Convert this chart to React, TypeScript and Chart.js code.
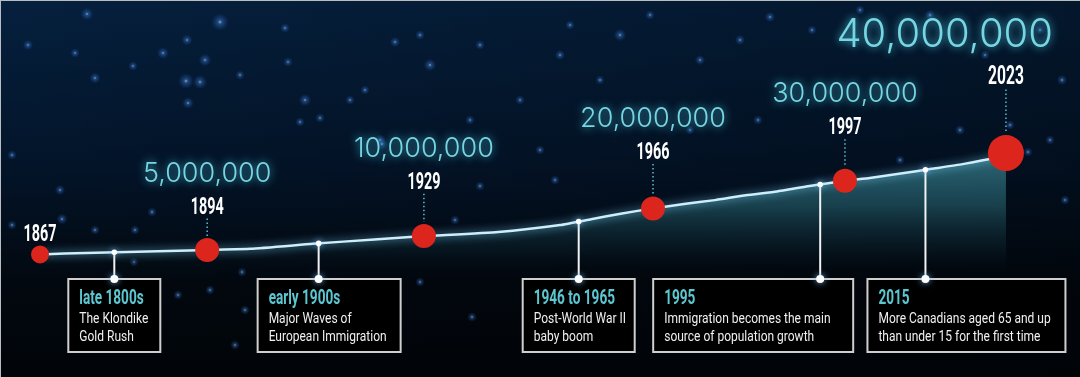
import { useEffect, useRef } from "react";
import { Chart, registerables } from "chart.js";

Chart.register(...registerables);

// ---- data ----
const years = [1867, 1871, 1881, 1891, 1894, 1901, 1911, 1921, 1929, 1941, 1951, 1956, 1961, 1966, 1971, 1976, 1981, 1986, 1991, 1997, 2001, 2006, 2011, 2016, 2021, 2023];
const populationMillions = [3.4, 3.7, 4.3, 4.8, 5.0, 5.4, 7.2, 8.8, 10.0, 11.5, 14.0, 16.1, 18.2, 20.0, 21.6, 23.0, 24.8, 26.1, 28.0, 30.0, 31.0, 32.6, 34.3, 36.0, 38.2, 40.0];

const milestoneYears = [1867, 1894, 1929, 1966, 1997, 2023];
const milestonePopulation = [3.4, 5, 10, 20, 30, 40];
const milestonePopLabels = ["", "5,000,000", "10,000,000", "20,000,000", "30,000,000", "40,000,000"];

const eventYears = [1879, 1912, 1954, 1993, 2010];
const eventTitles = ["late 1800s", "early 1900s", "1946 to 1965", "1995", "2015"];
const eventLine1 = ["The Klondike", "Major Waves of", "Post-World War II", "Immigration becomes the main", "More Canadians aged 65 and up"];
const eventLine2 = ["Gold Rush", "European Immigration", "baby boom", "source of population growth", "than under 15 for the first time"];

// ---- layout / style (not data) ----
const milestoneRadius = [9, 12, 12, 12, 12, 18];
const yearLift = [22, 45, 56, 58, 55, 78];
const boxOffset = [-46, -61, -56, -167, -58];
const boxWidth = [92, 143, 112, 200, 198];
const BOX_TOP = 279;
const BOX_H = 73;

const stars: number[][] = [
  [87, 14, 1.6], [220, 22, 2.2], [187, 40, 1.4], [28, 45, 1.3], [75, 53, 1.2], [186, 81, 2.0], [200, 82, 1.8],
  [163, 53, 1.5], [95, 78, 1.4], [133, 66, 1.2], [288, 62, 1.2], [300, 122, 1.2], [285, 28, 1.2], [395, 42, 1.3],
  [420, 35, 1.2], [430, 65, 1.6], [480, 45, 1.2], [470, 120, 1.2], [560, 55, 1.3], [570, 25, 1.2], [620, 35, 1.6],
  [650, 15, 1.2], [700, 60, 1.3], [758, 120, 1.2], [770, 17, 1.3], [860, 10, 1.2], [930, 15, 1.3], [1040, 30, 1.3],
  [1062, 80, 1.3], [1065, 200, 1.2], [1010, 125, 1.2], [960, 130, 1.3], [900, 160, 1.2], [740, 40, 1.3],
  [350, 100, 1.2], [380, 140, 1.4], [12, 155, 1.2], [60, 190, 1.3], [205, 60, 1.6], [188, 103, 1.5], [320, 118, 1.2],
  [240, 75, 1.2], [305, 100, 1.6], [365, 90, 1.2], [382, 144, 1.6], [480, 186, 1.2], [520, 100, 1.2], [600, 80, 1.2],
  [690, 130, 1.2], [812, 30, 1.2], [985, 55, 1.2], [1028, 152, 1.2], [1050, 140, 1.2], [62, 219, 1.4], [95, 230, 1.2],
  [134, 262, 1.2], [178, 295, 1.2], [210, 290, 1.2], [242, 272, 1.2], [245, 310, 1.2], [235, 345, 1.2], [420, 282, 1.2],
  [472, 317, 1.2], [135, 230, 1.2], [152, 212, 1.2], [12, 225, 1.2], [540, 150, 1.2], [555, 180, 1.2], [455, 220, 1.2],
];

function lerpPop(yr: number) {
  for (let i = 0; i < years.length - 1; i++) {
    if (yr >= years[i] && yr <= years[i + 1]) {
      const t = (yr - years[i]) / (years[i + 1] - years[i]);
      return populationMillions[i] + t * (populationMillions[i + 1] - populationMillions[i]);
    }
  }
  return populationMillions[populationMillions.length - 1];
}

function condensed(
  ctx: CanvasRenderingContext2D, text: string, x: number, yc: number, size: number,
  weight: string, family: string, sx: number, align: "left" | "center" | "right", color: string
) {
  ctx.save();
  ctx.font = `${weight} ${size}px ${family}`;
  ctx.fillStyle = color;
  ctx.textBaseline = "alphabetic";
  ctx.textAlign = "left";
  const w = ctx.measureText(text).width * sx;
  const left = align === "left" ? x : align === "center" ? x - w / 2 : x - w;
  ctx.translate(left, yc + size * 0.36);
  ctx.scale(sx, 1);
  ctx.fillText(text, 0, 0);
  ctx.restore();
}

const backgroundPlugin = {
  id: "bgStars",
  beforeDraw(chart: any) {
    const { ctx, width, height } = chart;
    ctx.save();
    const g = ctx.createLinearGradient(0, 0, 0, height);
    g.addColorStop(0, "#05203e");
    g.addColorStop(0.45, "#031429");
    g.addColorStop(0.75, "#02080f");
    g.addColorStop(1, "#01050a");
    ctx.fillStyle = g;
    ctx.fillRect(0, 0, width, height);
    const h = ctx.createLinearGradient(0, 0, width, 0);
    h.addColorStop(0, "rgba(0,0,0,0)");
    h.addColorStop(1, "rgba(0,0,0,0.28)");
    ctx.fillStyle = h;
    ctx.fillRect(0, 0, width, height);
    for (const [sx, sy, r] of stars) {
      const rg = ctx.createRadialGradient(sx, sy, 0, sx, sy, r * 4);
      rg.addColorStop(0, "rgba(190,225,255,0.75)");
      rg.addColorStop(0.25, "rgba(70,140,230,0.4)");
      rg.addColorStop(1, "rgba(30,90,200,0)");
      ctx.fillStyle = rg;
      ctx.beginPath();
      ctx.arc(sx, sy, r * 4, 0, Math.PI * 2);
      ctx.fill();
    }
    ctx.restore();
  },
};

const glowPlugin = {
  id: "lineGlow",
  beforeDatasetDraw(chart: any, args: any) {
    if (args.index !== 1) return;
    const ctx = chart.ctx;
    ctx.save();
    ctx.shadowColor = "rgba(130,215,255,0.9)";
    ctx.shadowBlur = 8;
  },
  afterDatasetDraw(chart: any, args: any) {
    if (args.index !== 1) return;
    chart.ctx.restore();
  },
};

const annotationPlugin = {
  id: "annotations",
  afterDatasetsDraw(chart: any) {
    const { ctx, width } = chart;
    const xs = chart.scales.x;
    const ys = chart.scales.y;
    ctx.save();

    // event connectors and boxes
    eventYears.forEach((yr, i) => {
      const px = xs.getPixelForValue(yr);
      const py = ys.getPixelForValue(lerpPop(yr));
      ctx.strokeStyle = "#f2f2f2";
      ctx.lineWidth = 2;
      ctx.beginPath();
      ctx.moveTo(px, py);
      ctx.lineTo(px, BOX_TOP);
      ctx.stroke();

      const bl = px + boxOffset[i];
      const bw = boxWidth[i];
      ctx.fillStyle = "#000000";
      ctx.fillRect(bl, BOX_TOP, bw, BOX_H);
      ctx.strokeStyle = "#cfcfcf";
      ctx.lineWidth = 2;
      ctx.strokeRect(bl, BOX_TOP, bw, BOX_H);

      ctx.save();
      ctx.shadowColor = "rgba(120,190,255,0.9)";
      ctx.shadowBlur = 6;
      ctx.fillStyle = "#ffffff";
      ctx.beginPath();
      ctx.arc(px, BOX_TOP, 4, 0, Math.PI * 2);
      ctx.fill();
      ctx.beginPath();
      ctx.arc(px, py, 2.8, 0, Math.PI * 2);
      ctx.fill();
      ctx.restore();

      const tx = bl + 11;
      condensed(ctx, eventTitles[i], tx, BOX_TOP + 18, 20, "bold", "Roboto", 0.68, "left", "#5cc7d2");
      condensed(ctx, eventLine1[i], tx, BOX_TOP + 39, 15, "normal", "Roboto", 0.8, "left", "#f0f0f0");
      condensed(ctx, eventLine2[i], tx, BOX_TOP + 57, 15, "normal", "Roboto", 0.8, "left", "#f0f0f0");
    });

    // milestone labels
    milestoneYears.forEach((yr, i) => {
      const px = xs.getPixelForValue(yr);
      const py = ys.getPixelForValue(milestonePopulation[i]);
      const last = i === milestoneYears.length - 1;
      const size = last ? 26 : 24;
      const ly = py - yearLift[i];
      if (i > 0) {
        ctx.save();
        ctx.strokeStyle = "#5fbfcc";
        ctx.lineWidth = 1.5;
        ctx.setLineDash([1.5, 2.5]);
        ctx.beginPath();
        ctx.moveTo(px, ly + size * 0.4 + 4);
        ctx.lineTo(px, py - milestoneRadius[i] - 2);
        ctx.stroke();
        ctx.restore();
      }
      condensed(ctx, String(yr), px, ly, size, "bold", "Roboto", 0.6, "center", "#ffffff");

      const lbl = milestonePopLabels[i];
      if (lbl) {
        const fs = last ? 40 : 27;
        ctx.save();
        ctx.font = `300 ${fs}px Inter, "Open Sans", sans-serif`;
        const w = ctx.measureText(lbl).width;
        let cx = last ? px - 52 : px;
        cx = Math.min(cx, width - 27 - w / 2);
        const cy = ly - (last ? 42 : 33);
        ctx.shadowColor = "rgba(80,210,235,0.95)";
        ctx.shadowBlur = 9;
        ctx.fillStyle = "#76d6e1";
        ctx.textAlign = "center";
        ctx.textBaseline = "alphabetic";
        ctx.fillText(lbl, cx, cy + fs * 0.36);
        ctx.restore();
      }
    });

    // thin frame at top/left
    ctx.fillStyle = "#b9bcc0";
    ctx.fillRect(0, 0, width, 1);
    ctx.fillRect(0, 0, 1, chart.height);
    ctx.restore();
  },
};

export default function App() {
  const ref = useRef<HTMLCanvasElement | null>(null);

  useEffect(() => {
    if (!ref.current) return;
    const chart = new Chart(ref.current, {
      type: "line",
      data: {
        datasets: [
          {
            label: "Milestones",
            data: milestoneYears.map((x, i) => ({ x, y: milestonePopulation[i] })),
            showLine: false,
            pointRadius: milestoneRadius,
            pointHoverRadius: milestoneRadius,
            pointBackgroundColor: "#dc261d",
            pointBorderWidth: 0,
            order: 0,
            clip: false,
          },
          {
            label: "Population",
            data: years.map((x, i) => ({ x, y: populationMillions[i] })),
            borderColor: "#cdeefa",
            borderWidth: 2.5,
            pointRadius: 0,
            tension: 0.15,
            order: 1,
            fill: { target: { value: -5 } },
            backgroundColor: (c: any) => {
              const area = c.chart.chartArea;
              if (!area) return "rgba(40,100,110,0.4)";
              const g = c.chart.ctx.createLinearGradient(0, 150, 0, 275);
              g.addColorStop(0, "rgba(62,140,155,0.75)");
              g.addColorStop(0.45, "rgba(42,105,118,0.55)");
              g.addColorStop(0.8, "rgba(15,45,55,0.3)");
              g.addColorStop(1, "rgba(0,10,20,0)");
              return g;
            },
          },
        ],
      },
      options: {
        responsive: false,
        animation: false,
        layout: { padding: 0, autoPadding: false },
        plugins: { legend: { display: false }, tooltip: { enabled: false } },
        events: [],
        scales: {
          x: { type: "linear", display: false, min: 1860.54, max: 2034.96 },
          y: { type: "linear", display: false, min: -40.9, max: 95.3 },
        },
      },
      plugins: [backgroundPlugin, glowPlugin, annotationPlugin],
    });
    return () => chart.destroy();
  }, []);

  return (
    <div style={{ position: "absolute", left: 0, top: 0, width: 1080, height: 377 }}>
      <canvas ref={ref} width={1080} height={377} style={{ display: "block", width: 1080, height: 377 }} />
    </div>
  );
}
